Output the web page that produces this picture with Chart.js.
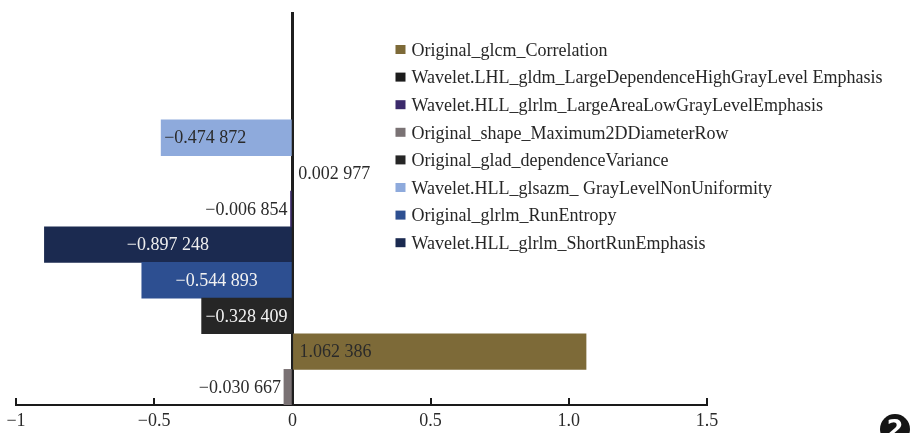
<!DOCTYPE html>
<html><head><meta charset="utf-8">
<script src="https://cdn.jsdelivr.net/npm/chart.js@4.4.1/dist/chart.umd.min.js"></script>
<style>html,body{margin:0;padding:0;background:#fff}#wrap{width:919px;height:433px;position:relative}</style>
</head><body><div id="wrap"><canvas id="c"></canvas></div>
<script>
// Series (legend order)
const features = [
  'Original_glcm_Correlation',
  'Wavelet.LHL_gldm_LargeDependenceHighGrayLevel Emphasis',
  'Wavelet.HLL_glrlm_LargeAreaLowGrayLevelEmphasis',
  'Original_shape_Maximum2DDiameterRow',
  'Original_glad_dependenceVariance',
  'Wavelet.HLL_glsazm_ GrayLevelNonUniformity',
  'Original_glrlm_RunEntropy',
  'Wavelet.HLL_glrlm_ShortRunEmphasis'
];
const values = [1.062386, 0.002977, -0.006854, -0.030667, -0.328409, -0.474872, -0.544893, -0.897248];
const colors = ['#7d6a38', '#1c1c1c', '#3b2a6b', '#7a7274', '#262626', '#8eaadc', '#2d4f91', '#1b2a50'];
// Rows of the category axis, top to bottom (first three are empty)
const categories = ['', '', '',
  'Wavelet.HLL_glsazm_ GrayLevelNonUniformity',
  'Wavelet.LHL_gldm_LargeDependenceHighGrayLevel Emphasis',
  'Wavelet.HLL_glrlm_LargeAreaLowGrayLevelEmphasis',
  'Wavelet.HLL_glrlm_ShortRunEmphasis',
  'Original_glrlm_RunEntropy',
  'Original_glad_dependenceVariance',
  'Original_glcm_Correlation',
  'Original_shape_Maximum2DDiameterRow'
];
const xTicks = [-1, -0.5, 0, 0.5, 1, 1.5];
const xTickLabels = ['\u22121', '\u22120.5', '0', '0.5', '1.0', '1.5'];

// label placement / colour per series (style, not data)
const labelMode = ['baseIn', 'endOut', 'endOut', 'endOut', 'center', 'endIn', 'center', 'center'];
const labelColor = ['#2a2a2a', '#2a2a2a', '#2a2a2a', '#2a2a2a', '#f2f2f2', '#2a2a2a', '#f2f2f2', '#eeeeee'];

const FONT = "'Liberation Serif', 'DejaVu Serif', serif";
const FS = 18;

function fmt(v) {
  const s = Math.abs(v).toFixed(6);
  const [i, d] = s.split('.');
  return (v < 0 ? '\u2212' : '') + i + '.' + d.slice(0, 3) + ' ' + d.slice(3);
}

const datasets = features.map((f, k) => ({
  label: f,
  data: categories.map(c => c === f ? values[k] : null),
  backgroundColor: colors[k],
  borderWidth: 0,
  barPercentage: 1,
  categoryPercentage: 1
}));

const barLabels = {
  id: 'barLabels',
  afterDatasetsDraw(chart) {
    const ctx = chart.ctx;
    ctx.save();
    ctx.font = FS + 'px ' + FONT;
    ctx.textBaseline = 'middle';
    chart.data.datasets.forEach((ds, k) => {
      const meta = chart.getDatasetMeta(k);
      meta.data.forEach((el, i) => {
        const v = ds.data[i];
        if (v === null || v === undefined) return;
        const txt = fmt(v);
        const mode = labelMode[k];
        let x, align;
        const neg = v < 0;
        if (mode === 'center') { x = (el.x + el.base) / 2; align = 'center'; }
        else if (mode === 'endOut') { x = neg ? el.x - 3 : el.x + 5; align = neg ? 'right' : 'left'; }
        else if (mode === 'endIn') { x = neg ? el.x + 3 : el.x - 3; align = neg ? 'left' : 'right'; }
        else { x = neg ? el.base - 3 : el.base + 6; align = neg ? 'right' : 'left'; }
        ctx.textAlign = align;
        ctx.fillStyle = labelColor[k];
        ctx.fillText(txt, x, el.y + 1);
      });
    });
    ctx.restore();
  }
};

// legend drawn inside the plot, to the right of the zero line
const insideLegend = {
  id: 'insideLegend',
  afterDraw(chart) {
    const ctx = chart.ctx;
    const left = chart.scales.x.getPixelForValue(0.373);
    const top = chart.chartArea.top + 38;
    const step = 27.6;
    ctx.save();
    ctx.font = FS + 'px ' + FONT;
    ctx.textBaseline = 'middle';
    ctx.textAlign = 'left';
    chart.data.datasets.forEach((ds, i) => {
      const y = top + i * step;
      ctx.fillStyle = ds.backgroundColor;
      ctx.fillRect(left, y - 6, 10, 9);
      ctx.fillStyle = '#262626';
      ctx.fillText(ds.label, left + 16, y);
    });
    ctx.restore();
  }
};

const badge = {
  id: 'badge',
  afterDraw(chart) {
    const ctx = chart.ctx;
    ctx.save();
    ctx.fillStyle = '#151515';
    ctx.beginPath();
    ctx.arc(895, 429, 15, 0, Math.PI * 2);
    ctx.fill();
    ctx.fillStyle = '#fff';
    ctx.font = "bold 24px 'DejaVu Sans', sans-serif";
    ctx.textAlign = 'center';
    ctx.textBaseline = 'middle';
    ctx.fillText('2', 895, 431);
    ctx.restore();
  }
};

new Chart(document.getElementById('c'), {
  type: 'bar',
  data: { labels: categories, datasets },
  options: {
    indexAxis: 'y',
    responsive: true,
    maintainAspectRatio: false,
    animation: false,
    devicePixelRatio: 1,
    layout: { padding: { left: 16, right: 212, top: 13, bottom: 0 } },
    plugins: {
      legend: { display: false },
      tooltip: { enabled: false }
    },
    scales: {
      x: {
        type: 'linear',
        min: -1, max: 1.5,
        afterBuildTicks(scale) { scale.ticks = xTicks.map(v => ({ value: v })); },
        afterFit(scale) { scale.height = 28; scale.paddingLeft = 0; },
        ticks: {
          callback(v) { return xTickLabels[xTicks.indexOf(v)]; },
          font: { family: FONT, size: FS },
          color: '#2a2a2a',
          padding: 12,
          maxRotation: 0,
          autoSkip: false
        },
        grid: { drawOnChartArea: false, drawTicks: true, tickLength: -7, color: '#1a1a1a', lineWidth: 2 },
        border: { display: true, color: '#1a1a1a', width: 2 }
      },
      y: {
        type: 'category',
        position: { x: 0 },
        stacked: true,
        z: 1,
        ticks: { display: false },
        grid: { display: false, drawTicks: false },
        border: { display: true, color: '#1f1f1f', width: 3 }
      }
    }
  },
  plugins: [barLabels, insideLegend, badge]
});
</script>
</body></html>
